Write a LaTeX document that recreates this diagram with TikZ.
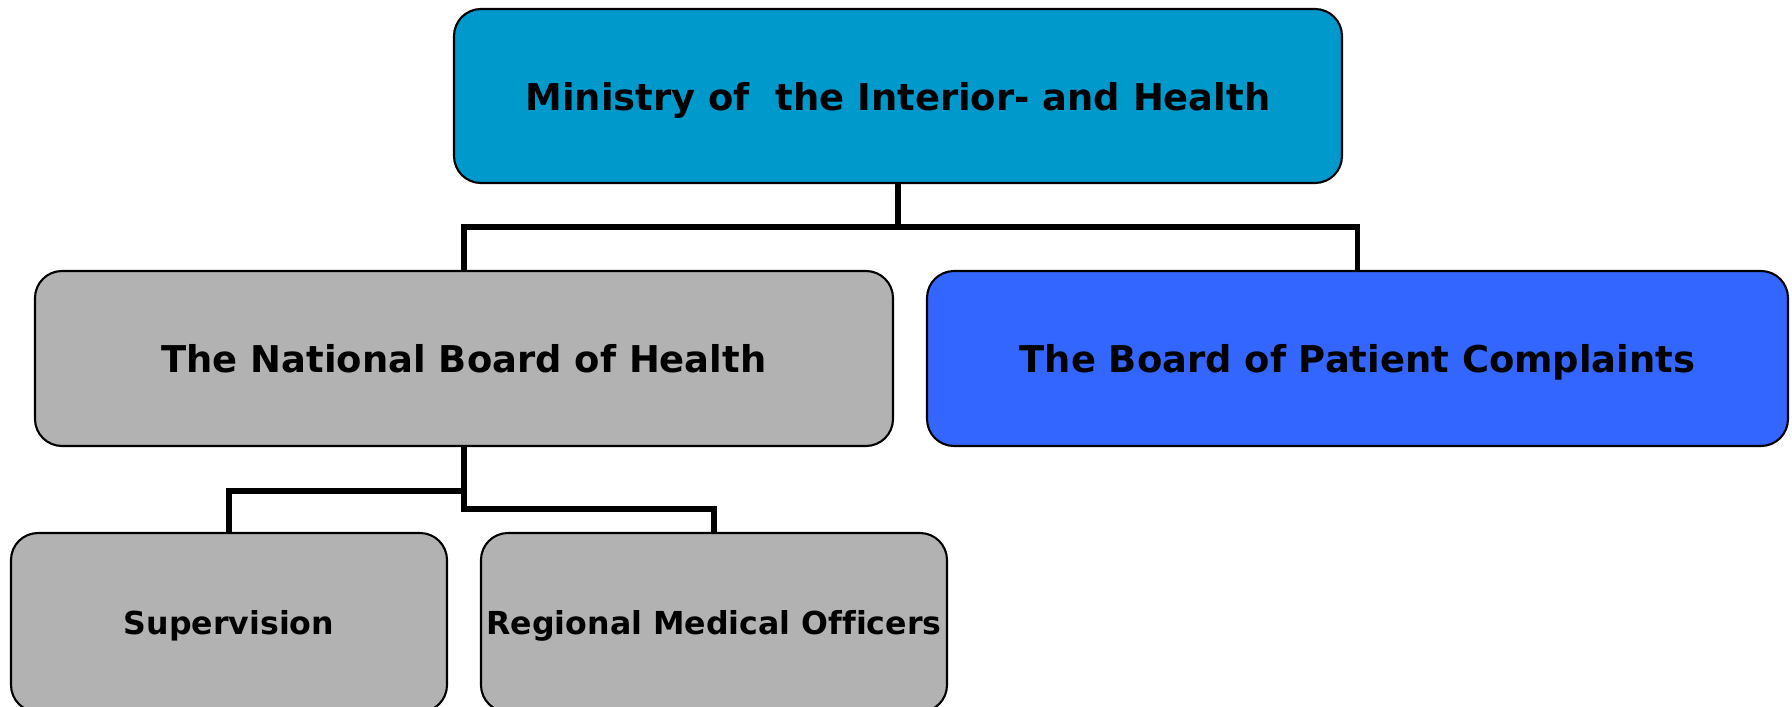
\documentclass[tikz,border=0pt]{standalone}
\usepackage{fontspec}
\setmainfont{DejaVu Sans}[Ligatures=NoCommon]
\definecolor{ministryblue}{RGB}{0,153,204}
\definecolor{boardgray}{RGB}{178,178,178}
\definecolor{complaintblue}{RGB}{51,102,255}
\begin{document}
\begin{tikzpicture}[line join=miter,
        unit/.style={draw,rounded corners=0.27cm,line width=0.6pt,inner sep=0pt,text depth=0pt,align=center,font=\bfseries\fontsize{10.5}{12.5}\selectfont},
        subunit/.style={unit,font=\bfseries\fontsize{9}{11}\selectfont},
        link/.style={line width=1.6pt}]
        \useasboundingbox(0,0)rectangle(17.92,7.06);
        \node[unit,fill=ministryblue,minimum width=8.88cm,minimum height=1.74cm] (min) at (8.98,6.10) {Ministry of\ \ the Interior- and Health};
        \node[unit,fill=boardgray,minimum width=8.58cm,minimum height=1.75cm] (nat) at (4.64,3.475) {The National Board of Health};
        \node[unit,fill=complaintblue,minimum width=8.61cm,minimum height=1.75cm] (pat) at (13.575,3.475) {The Board of Patient Complaints};
        \node[subunit,fill=boardgray,minimum width=4.36cm,minimum height=1.79cm] (sup) at (2.29,0.835) {Supervision};
        \node[subunit,fill=boardgray,minimum width=4.66cm,minimum height=1.79cm] (reg) at (7.14,0.835) {Regional Medical Officers};
        \coordinate (topbus) at (8.98,4.79);
        \coordinate (supbus) at (4.64,2.15);
        \coordinate (regbus) at (4.64,1.97);
        \draw[link] (min.south)--(topbus);
        \draw[link] (nat.north)|-(topbus)-|(pat.north);
        \draw[link] (nat.south)--(regbus)-|(reg.north);
        \draw[link] (supbus)-|(sup.north);
\end{tikzpicture}
\end{document}
